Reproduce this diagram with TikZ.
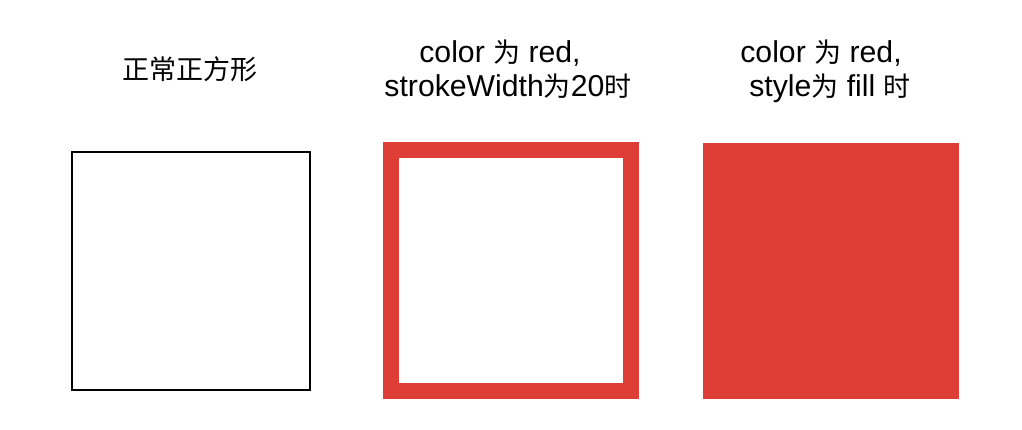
\documentclass[tikz,border=0pt]{standalone}
\usepackage{fontspec}
\setmainfont{Liberation Sans}
\newfontfamily\cjkfam{Noto Sans CJK SC}
\newcommand{\zh}[1]{{\fontsize{27}{34}\cjkfam #1}}
\definecolor{sqred}{RGB}{222,62,53}
\begin{document}
\begin{tikzpicture}[x=1pt,y=1pt,
  lbl/.style={inner sep=0pt, anchor=base, font=\fontsize{30.2}{34}\selectfont},
  sq/.style={rectangle, inner sep=0pt, outer sep=0pt}]
\useasboundingbox (0,0) rectangle (1022,-430);
\fill[white] (0,0) rectangle (1022,-430);
\node[lbl] (t1) at (190,-80) {\zh{正常正方形}};
\node[lbl] (t2a) at (500,-63) {color \zh{为} red,};
\node[lbl] (t2b) at (508,-97) {strokeWidth\zh{为}20\zh{时}};
\node[lbl] (t3a) at (821,-63) {color \zh{为} red,};
\node[lbl] (t3b) at (830,-97) {style\zh{为} fill \zh{时}};
\node[sq, draw=black, line width=2pt, minimum size=238pt] (s1) at (191,-271) {};
\node[sq, draw=sqred, line width=16pt, minimum size=240pt] (s2) at (511,-270.5) {};
\node[sq, fill=sqred, minimum size=256pt] (s3) at (831,-271) {};
\end{tikzpicture}
\end{document}
